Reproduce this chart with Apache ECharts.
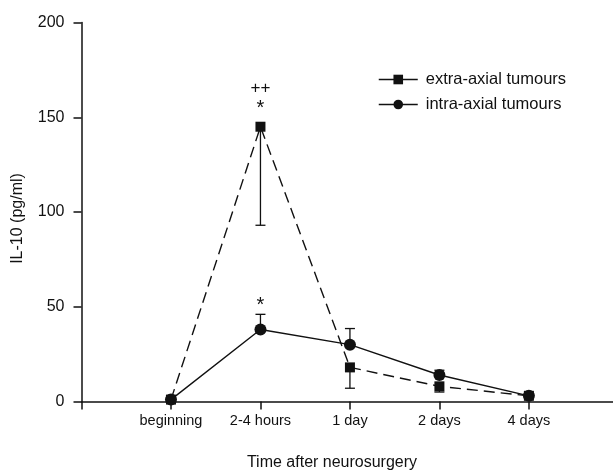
<!DOCTYPE html>
<html>
<head>
<meta charset="utf-8">
<script src="https://cdn.jsdelivr.net/npm/echarts@6/dist/echarts.min.js"></script>
<style>html,body{margin:0;padding:0;background:#fff}#c{width:613px;height:472px}</style>
</head>
<body>
<div id="c"></div>
<script>
const categories = ['beginning', '2-4 hours', '1 day', '2 days', '4 days'];
const extraValues = [1, 145, 18, 8, 3];
const extraErrEnd = [null, 93, 7, 5, null];      // lower error bar ends
const extraAnno = ['', '{p|++}\n{a|*}', '', '', ''];
const intraValues = [1, 38, 30, 14, 3];
const intraErrEnd = [null, 46, 38.5, 16.5, null]; // upper error bar ends
const intraAnno = ['', '{a|*}', '', '', ''];
const yTicks = [0, 50, 100, 150, 200];

const FONT = '"Liberation Sans", Arial, sans-serif';
const INK = '#111';

function lineData(vals, annos, dist) {
  return vals.map((v, i) => ({
    value: [i + 1, v],
    label: annos[i] ? {
      show: true, position: 'top', distance: dist, formatter: annos[i],
      fontFamily: FONT, fontSize: 15, lineHeight: 20, color: INK,
      rich: {
        a: { fontFamily: FONT, fontSize: 20, lineHeight: 20, color: INK },
        p: { fontFamily: FONT, fontSize: 17, lineHeight: 21, color: INK }
      }
    } : { show: false }
  }));
}
function errData(vals, ends) {
  const out = [];
  vals.forEach((v, i) => { if (ends[i] != null) out.push([i + 1, v, ends[i]]); });
  return out;
}
function renderErr(params, api) {
  const x = api.value(0);
  const a = api.coord([x, api.value(1)]);
  const b = api.coord([x, api.value(2)]);
  const st = { stroke: INK, lineWidth: 1.3, fill: null };
  return {
    type: 'group',
    children: [
      { type: 'line', shape: { x1: a[0], y1: a[1], x2: b[0], y2: b[1] }, style: st },
      { type: 'line', shape: { x1: b[0] - 5, y1: b[1], x2: b[0] + 5, y2: b[1] }, style: st }
    ]
  };
}

const chart = echarts.init(document.getElementById('c'));
chart.setOption({
  animation: false,
  backgroundColor: '#fff',
  textStyle: { fontFamily: FONT, color: INK },
  grid: { left: 81.5, right: 0, top: 22.5, bottom: 70.5, containLabel: false },
  legend: {
    orient: 'vertical', left: 378, top: 71, padding: 0, itemWidth: 39, itemHeight: 12, itemGap: 8,
    data: ['extra-axial tumours', 'intra-axial tumours'],
    textStyle: { fontFamily: FONT, fontSize: 16.5, color: INK, padding: [0, 0, 0, 3] },
    lineStyle: { type: 'solid', width: 1.5 }
  },
  xAxis: {
    type: 'value', min: 0, max: 5.94, interval: 1,
    axisLine: { show: true, lineStyle: { color: INK, width: 1.5 } },
    axisTick: { show: true, length: 8, lineStyle: { color: INK, width: 1.5 } },
    splitLine: { show: false },
    axisLabel: {
      margin: 12, fontSize: 14.5, fontFamily: FONT, color: INK, showMaxLabel: false,
      formatter: v => (v >= 1 && v <= categories.length && Number.isInteger(v)) ? categories[v - 1] : ''
    }
  },
  yAxis: {
    type: 'value', min: yTicks[0], max: yTicks[yTicks.length - 1], interval: 50,
    axisLine: { show: true, lineStyle: { color: INK, width: 1.5 } },
    axisTick: { show: true, length: 8, lineStyle: { color: INK, width: 1.5 } },
    splitLine: { show: false },
    axisLabel: { margin: 17, fontSize: 16, fontFamily: FONT, color: INK }
  },
  graphic: [
    { type: 'text', x: 17.5, y: 218.5, rotation: Math.PI / 2,
      style: { text: 'IL-10 (pg/ml)', font: '16px ' + FONT, fill: INK, textAlign: 'center', textVerticalAlign: 'middle' } },
    { type: 'text', x: 332, y: 463,
      style: { text: 'Time after neurosurgery', font: '16px ' + FONT, fill: INK, textAlign: 'center', textVerticalAlign: 'middle' } }
  ],
  series: [
    {
      name: 'extra-axial tumours', type: 'line', data: lineData(extraValues, extraAnno, 3),
      symbol: 'rect', symbolSize: 10, z: 3,
      lineStyle: { color: INK, width: 1.4, type: [11, 6] },
      itemStyle: { color: INK, borderWidth: 0 }
    },
    {
      name: 'intra-axial tumours', type: 'line', data: lineData(intraValues, intraAnno, 8),
      symbol: 'circle', symbolSize: 12, z: 3,
      lineStyle: { color: INK, width: 1.4, type: 'solid' },
      itemStyle: { color: INK, borderWidth: 0 }
    },
    { type: 'custom', data: errData(extraValues, extraErrEnd), renderItem: renderErr, z: 2, silent: true },
    { type: 'custom', data: errData(intraValues, intraErrEnd), renderItem: renderErr, z: 2, silent: true }
  ]
});
</script>
</body>
</html>
